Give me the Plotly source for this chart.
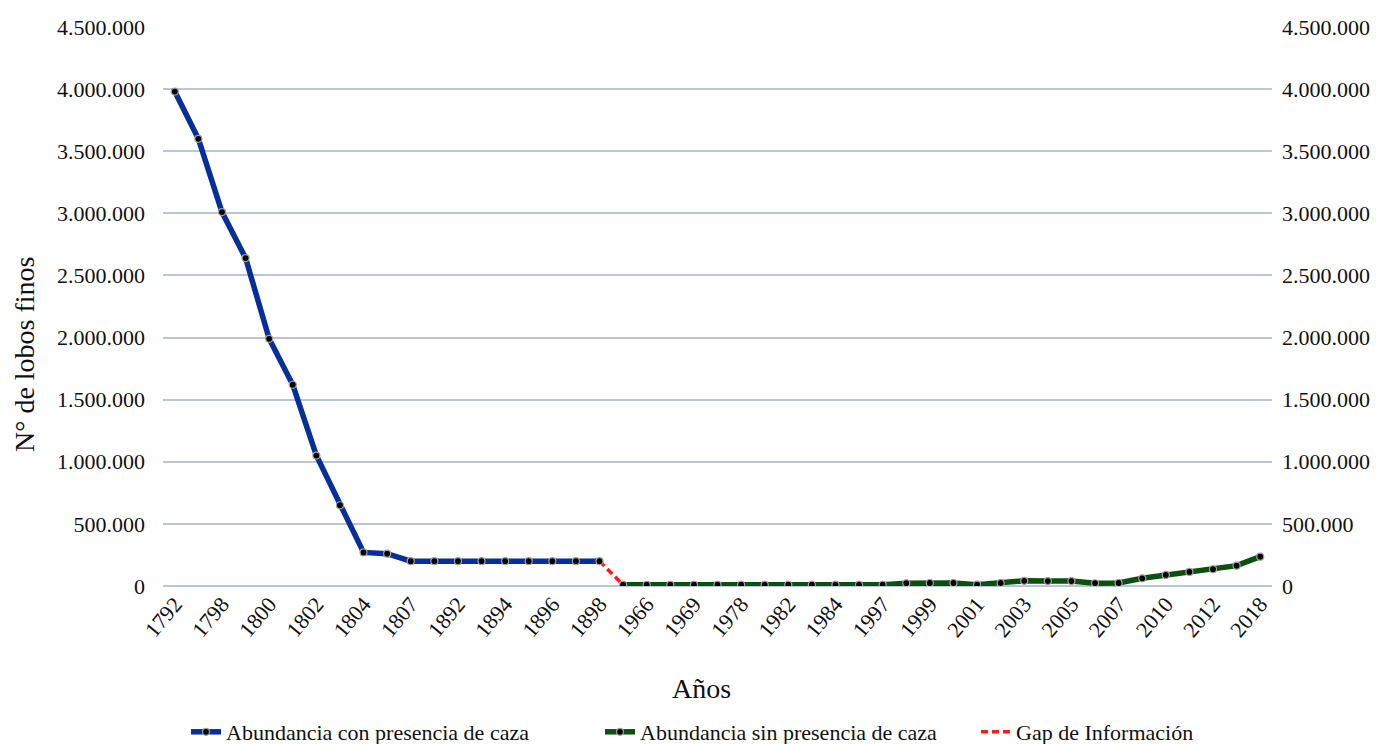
import plotly.graph_objects as go

# Categories (every other label shown on axis, as in the original)
years = ["1792", "1797", "1798", "1799", "1800", "1801", "1802", "1803", "1804", "1805",
         "1807", "1890", "1892", "1893", "1894", "1895", "1896", "1897", "1898",
         "1965", "1966", "1968", "1969", "1975", "1978", "1980", "1982", "1983", "1984",
         "1990", "1997", "1998", "1999", "2000", "2001", "2002", "2003", "2004", "2005",
         "2006", "2007", "2008", "2010", "2011", "2012", "2014", "2018"]

con_caza = [3980000, 3600000, 3010000, 2640000, 1990000, 1620000, 1050000, 650000,
            270000, 260000, 200000, 200000, 200000, 200000, 200000, 200000, 200000,
            200000, 200000]

sin_caza = [10000, 10000, 10000, 10000, 10000, 10000, 10000, 10000, 10000, 10000,
            10000, 10000, 22000, 24000, 24000, 11000, 24000, 42000, 40000, 40000,
            22000, 24000, 62000, 89000, 113000, 135000, 164000, 236000]

shown_ticks = years[::2]

font_family = "Liberation Serif"

x_con = years[:len(con_caza)]
x_sin = years[len(con_caza):]

marker_style = dict(color="black", size=7, line=dict(color="#a0a0a0", width=1.2))

fig = go.Figure()

fig.add_trace(go.Scatter(
    x=[x_con[-1], x_sin[0]], y=[con_caza[-1], sin_caza[0]],
    mode="lines", name="Gap de Información",
    line=dict(color="#ff1a1a", width=3.5, dash="7px,4px"),
    legend="legend3",
))
fig.add_trace(go.Scatter(
    x=x_con, y=con_caza, mode="lines+markers",
    name="Abundancia con presencia de caza",
    line=dict(color="#062f9c", width=5.5),
    marker=marker_style,
    legend="legend",
))
fig.add_trace(go.Scatter(
    x=x_sin, y=sin_caza, mode="lines+markers",
    name="Abundancia sin presencia de caza",
    line=dict(color="#0b500e", width=5.5),
    marker=marker_style,
    legend="legend2",
))
# invisible trace to activate right axis
fig.add_trace(go.Scatter(
    x=[years[0]], y=[0], yaxis="y2", mode="markers",
    marker=dict(opacity=0), showlegend=False, hoverinfo="skip",
))

grid_color = "#b9c5d8"

W, H = 1387, 744

def legend_at(px):
    return dict(
        orientation="h", xref="container", yref="container",
        x=px / W, xanchor="left", y=(H - 732) / H, yanchor="middle",
        font=dict(size=22, family=font_family, color="#111111"),
        bgcolor="rgba(0,0,0,0)",
    )

fig.update_layout(
    width=W, height=H,
    paper_bgcolor="white", plot_bgcolor="white",
    separators=",.",
    font=dict(family=font_family, size=22, color="#111111"),
    margin=dict(l=163, r=115, t=27, b=158, autoexpand=False),
    xaxis=dict(
        type="category", categoryorder="array", categoryarray=years,
        range=[-0.5, len(years) - 0.5],
        tickmode="array", tickvals=shown_ticks, ticktext=shown_ticks,
        tickangle=-50, tickfont=dict(size=22),
        showgrid=False, showline=False, zeroline=False, automargin=False,
    ),
    yaxis=dict(
        range=[0, 4500000], dtick=500000, tickformat=",d",
        showgrid=True, gridcolor=grid_color, gridwidth=2,
        zeroline=True, zerolinecolor=grid_color, zerolinewidth=2,
        showline=False, ticklabelstandoff=17, automargin=False,
        tickfont=dict(size=22),
    ),
    yaxis2=dict(
        overlaying="y", side="right",
        range=[0, 4500000], dtick=500000, tickformat=",d",
        showgrid=False, zeroline=False, showline=False, automargin=False,
        ticklabelstandoff=9, tickfont=dict(size=22),
    ),
    legend=legend_at(186),
    legend2=legend_at(600),
    legend3=legend_at(976),
    showlegend=True,
    annotations=[
        dict(text="Años", xref="paper", yref="paper",
             x=(701 - 163) / (1272 - 163), y=-(688 - 586) / (586 - 27),
             xanchor="center", yanchor="middle", showarrow=False,
             font=dict(size=28, family=font_family, color="#111111")),
        dict(text="N° de lobos finos", xref="paper", yref="paper",
             x=-(163 - 25) / (1272 - 163), y=(586 - 354) / (586 - 27),
             xanchor="center", yanchor="middle", showarrow=False, textangle=-90,
             font=dict(size=28, family=font_family, color="#111111")),
    ],
)

fig.write_html("out.html", config={"displayModeBar": False},
               post_script="document.body.style.margin='0';document.body.style.overflow='hidden';")
